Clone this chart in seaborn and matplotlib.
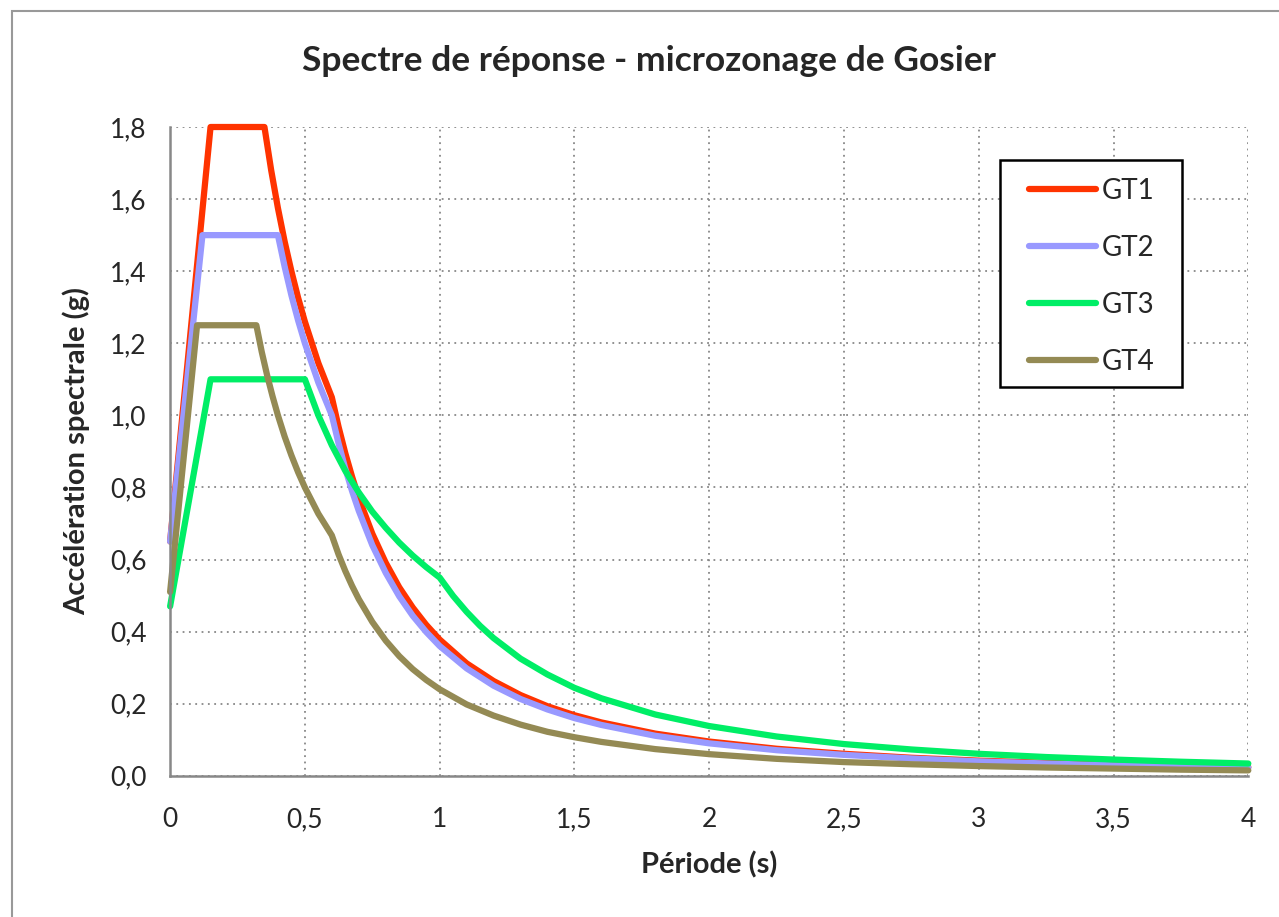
import numpy as np
import pandas as pd
import matplotlib
matplotlib.use('Agg')
import matplotlib.pyplot as plt
from matplotlib.patches import Rectangle
from matplotlib.ticker import FuncFormatter
import seaborn as sns

# periods (s) and spectral accelerations (g)
t_gt1 = [0, 0.15, 0.35, 0.375, 0.4, 0.425, 0.45, 0.475, 0.5, 0.55, 0.6, 0.625, 0.65, 0.675, 0.7, 0.75, 0.8,
         0.85, 0.9, 0.95, 1.0, 1.1, 1.2, 1.3, 1.4, 1.5, 1.6, 1.8, 2.0, 2.25, 2.5, 2.75, 3.0, 3.25, 3.5, 3.75, 4.0]
sa_gt1 = [0.65, 1.8, 1.8, 1.68, 1.575, 1.482, 1.4, 1.326, 1.26, 1.145, 1.05, 0.968, 0.895, 0.83, 0.771,
          0.672, 0.591, 0.523, 0.467, 0.419, 0.378, 0.312, 0.263, 0.224, 0.193, 0.168, 0.148, 0.117, 0.095,
          0.075, 0.061, 0.05, 0.042, 0.036, 0.031, 0.027, 0.024]

t_gt2 = [0, 0.12, 0.4, 0.425, 0.45, 0.475, 0.5, 0.55, 0.6, 0.625, 0.65, 0.675, 0.7, 0.75, 0.8, 0.85, 0.9,
         0.95, 1.0, 1.1, 1.2, 1.3, 1.4, 1.5, 1.6, 1.8, 2.0, 2.25, 2.5, 2.75, 3.0, 3.25, 3.5, 3.75, 4.0]
sa_gt2 = [0.65, 1.5, 1.5, 1.412, 1.333, 1.263, 1.2, 1.091, 1.0, 0.922, 0.852, 0.79, 0.735, 0.64, 0.563,
          0.498, 0.444, 0.399, 0.36, 0.298, 0.25, 0.213, 0.184, 0.16, 0.141, 0.111, 0.09, 0.071, 0.058,
          0.048, 0.04, 0.034, 0.029, 0.026, 0.0225]

t_gt3 = [0, 0.15, 0.5, 0.55, 0.6, 0.65, 0.7, 0.75, 0.8, 0.85, 0.9, 0.95, 1.0, 1.05, 1.1, 1.15, 1.2, 1.3, 1.4,
         1.5, 1.6, 1.8, 2.0, 2.25, 2.5, 2.75, 3.0, 3.25, 3.5, 3.75, 4.0]
sa_gt3 = [0.47, 1.1, 1.1, 1.0, 0.917, 0.846, 0.786, 0.733, 0.688, 0.647, 0.611, 0.579, 0.55, 0.499, 0.455,
          0.416, 0.382, 0.325, 0.281, 0.244, 0.215, 0.17, 0.138, 0.109, 0.088, 0.073, 0.061, 0.052, 0.045,
          0.039, 0.034]

t_gt4 = [0, 0.1, 0.32, 0.34, 0.36, 0.38, 0.4, 0.425, 0.45, 0.475, 0.5, 0.55, 0.6, 0.625, 0.65, 0.675, 0.7,
         0.75, 0.8, 0.85, 0.9, 0.95, 1.0, 1.1, 1.2, 1.3, 1.4, 1.5, 1.6, 1.8, 2.0, 2.25, 2.5, 2.75, 3.0, 3.25,
         3.5, 3.75, 4.0]
sa_gt4 = [0.51, 1.25, 1.25, 1.176, 1.111, 1.053, 1.0, 0.941, 0.889, 0.842, 0.8, 0.727, 0.667, 0.614, 0.568,
          0.527, 0.49, 0.427, 0.375, 0.332, 0.296, 0.266, 0.24, 0.198, 0.167, 0.142, 0.122, 0.107, 0.094,
          0.074, 0.06, 0.047, 0.038, 0.032, 0.027, 0.023, 0.02, 0.017, 0.015]

series = {'GT1': (t_gt1, sa_gt1), 'GT2': (t_gt2, sa_gt2), 'GT3': (t_gt3, sa_gt3), 'GT4': (t_gt4, sa_gt4)}
colors = {'GT1': '#FF3300', 'GT2': '#9999FF', 'GT3': '#00EE66', 'GT4': '#948A54'}

rows = []
for name, (t, sa) in series.items():
    for i in range(len(t)):
        rows.append({'Periode': t[i], 'Sa': sa[i], 'Sol': name})
data = pd.DataFrame(rows)

sns.set_style('white')
plt.rcParams['font.family'] = ['Lato', 'DejaVu Sans']

fig = plt.figure(figsize=(12.79, 9.17), dpi=100)
ax = fig.add_axes([0.133, 0.154, 0.843, 0.7075])

for name in series:
    sub = data[data['Sol'] == name]
    sns.lineplot(data=sub, x='Periode', y='Sa', ax=ax, color=colors[name], linewidth=4.5,
                 sort=False, estimator=None, label=name, clip_on=False)

ax.set_xlim(0, 4)
ax.set_ylim(0, 1.8)
ax.set_xticks(np.arange(0, 4.01, 0.5))
ax.set_yticks(np.arange(0, 1.81, 0.2))
ax.xaxis.set_major_formatter(FuncFormatter(lambda v, p: f'{v:g}'.replace('.', ',')))
ax.yaxis.set_major_formatter(FuncFormatter(lambda v, p: f'{v:.1f}'.replace('.', ',')))
ax.grid(True, linestyle=(0, (1, 2.5)), color='#888888', linewidth=1.3)
ax.set_axisbelow(True)
for s in ['top', 'right']:
    ax.spines[s].set_visible(False)
for s in ['left', 'bottom']:
    ax.spines[s].set_color('#888888')
    ax.spines[s].set_linewidth(1.8)
ax.tick_params(axis='both', width=1.5, color='#888888', labelsize=19)
ax.tick_params(axis='x', direction='inout', length=17, pad=14)
ax.tick_params(axis='y', direction='out', length=9, pad=8)

ax.set_xlabel('Période (s)', fontsize=21, fontweight='bold', labelpad=14)
ax.set_ylabel('Accélération spectrale (g)', fontsize=21, fontweight='bold', labelpad=14)
fig.text(0.507, 0.933, 'Spectre de réponse - microzonage de Gosier', ha='center', va='center',
         fontsize=25.5, fontweight='bold')

# legend frame drawn separately so the box matches the original's proportions
ax.add_patch(Rectangle((0.77, 0.5994), 0.1688, 0.3498, transform=ax.transAxes, facecolor='white',
                       edgecolor='black', linewidth=1.8, zorder=4))
leg = ax.legend(loc='upper left', bbox_to_anchor=(0.7968, 0.922), fontsize=20, frameon=False,
                handlelength=2.4, labelspacing=1.12, borderpad=0, handletextpad=0.22, borderaxespad=0)
leg.set_zorder(5)
for h in leg.get_lines():
    h.set_solid_capstyle('round')

fig.patches.append(Rectangle((0.0094, -0.05), 1.2, 1.038, transform=fig.transFigure,
                             fill=False, edgecolor='#999999', linewidth=1.5))

fig.savefig('out.png', dpi=100)
